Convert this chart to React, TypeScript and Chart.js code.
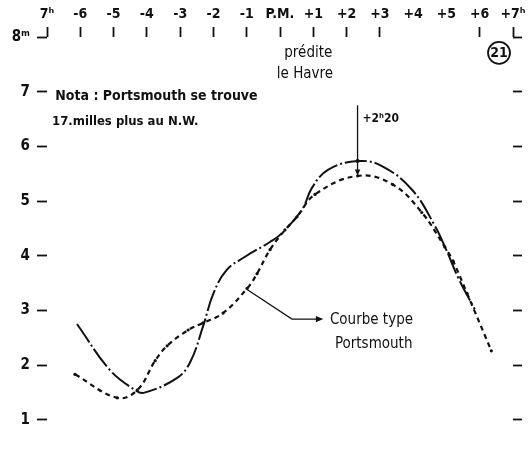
import { useEffect, useRef } from 'react';
import { Chart, registerables } from 'chart.js';

Chart.register(...registerables);

// Hours around high water (P.M.) along the top scale
const hourTicks = [-7, -6, -5, -4, -3, -2, -1, 0, 1, 2, 3, 4, 5, 6, 7];
const hourLabels = ['7ʰ', '-6', '-5', '-4', '-3', '-2', '-1', 'P.M.', '+1', '+2', '+3', '+4', '+5', '+6', '+7ʰ'];
const hoursWithoutTick = [4, 5];

// Water height in metres
const levelTicks = [1, 2, 3, 4, 5, 6, 7, 8];
const levelLabels = ['1', '2', '3', '4', '5', '6', '7', '8ᵐ'];

// Predicted curve at Le Havre (dash-dot line)
const havreHours = [-6.1, -5.1, -4.35, -4.1, -3.1, -2.7, -2.31, -2.0, -1.6, -1.05, -0.3, 0, 0.66, 0.96, 1.44, 2.33, 3.06, 3.96, 4.65, 5.0, 5.35, 5.85];
const havreLevels = [2.75, 1.9, 1.54, 1.49, 1.76, 2.05, 2.71, 3.31, 3.74, 3.98, 4.25, 4.38, 4.84, 5.24, 5.57, 5.73, 5.64, 5.21, 4.55, 4.1, 3.6, 3.02];

// Standard Portsmouth curve (dashed line)
const portsHours = [-6.16, -4.89, -4.29, -3.75, -3.39, -2.76, -2.31, -1.71, -0.99, -0.69, -0.3, 0.15, 0.51, 1.05, 2.34, 3.39, 4.26, 4.95, 5.2, 5.62, 6.35];
const portsLevels = [1.83, 1.4, 1.54, 2.08, 2.35, 2.64, 2.77, 2.95, 3.4, 3.67, 4.11, 4.47, 4.71, 5.12, 5.46, 5.3, 4.79, 4.16, 3.9, 3.31, 2.26];

// Time lag between the two high waters
const peakHour = 2.33;
const peakLabel = '+2ʰ20';
const peakTopLevel = 6.75;
const havrePeakLevel = 5.73;
const portsPeakLevel = 5.46;

const noteLines = ['Nota : Portsmouth se trouve', '17.milles plus au N.W.'];
const predictLines = ['prédite', 'le Havre'];
const curveLabelLines = ['Courbe type', 'Portsmouth'];
const figureNumber = '21';

const FONT = '"DejaVu Sans Condensed", "Liberation Sans Narrow", "DejaVu Sans", sans-serif';
const INK = '#111';

const toPoints = (xs: number[], ys: number[]) => xs.map((h, i) => ({ x: h, y: ys[i] }));

const arrowHead = (ctx: CanvasRenderingContext2D, x: number, y: number, angle: number, size: number) => {
  ctx.beginPath();
  ctx.moveTo(x, y);
  ctx.lineTo(x - size * Math.cos(angle - 0.4), y - size * Math.sin(angle - 0.4));
  ctx.lineTo(x - size * Math.cos(angle + 0.4), y - size * Math.sin(angle + 0.4));
  ctx.closePath();
  ctx.fill();
};

const annotations = {
  id: 'tideAnnotations',
  afterDraw(chart: any) {
    const { ctx } = chart;
    const x = chart.scales.x;
    const y = chart.scales.y;
    const px = (h: number) => x.getPixelForValue(h);
    const py = (v: number) => y.getPixelForValue(v);
    ctx.save();
    ctx.fillStyle = INK;
    ctx.strokeStyle = INK;
    ctx.textBaseline = 'middle';

    // "prédite le Havre" under the P.M. mark
    ctx.font = `15px ${FONT}`;
    ctx.textAlign = 'center';
    ctx.fillText(predictLines[0], px(0.85), py(7.7));
    ctx.fillText(predictLines[1], px(0.75), py(7.33));

    // Figure number in a circle
    ctx.lineWidth = 1.8;
    ctx.beginPath();
    ctx.arc(px(6.58), py(7.71), 11, 0, Math.PI * 2);
    ctx.stroke();
    ctx.font = `bold 14px ${FONT}`;
    ctx.fillText(figureNumber, px(6.58), py(7.71) + 1);

    // Note on Portsmouth
    ctx.textAlign = 'left';
    ctx.font = `bold 14px ${FONT}`;
    ctx.fillText(noteLines[0], px(-6.75), py(6.92));
    ctx.font = `bold 13px ${FONT}`;
    ctx.fillText(noteLines[1], px(-6.85), py(6.46));

    // High-water lag marker
    ctx.lineWidth = 1.3;
    ctx.beginPath();
    ctx.moveTo(px(peakHour), py(peakTopLevel));
    ctx.lineTo(px(peakHour), py(portsPeakLevel) - 3);
    ctx.stroke();
    arrowHead(ctx, px(peakHour), py(portsPeakLevel), Math.PI / 2, 7);
    ctx.beginPath();
    ctx.arc(px(peakHour), py(havrePeakLevel), 2, 0, Math.PI * 2);
    ctx.fill();
    ctx.font = `bold 12px ${FONT}`;
    ctx.fillText(peakLabel, px(peakHour) + 5, py(6.5));

    // Pointer to the Portsmouth curve
    const startH = -0.99;
    const startV = 3.38;
    ctx.lineWidth = 1.3;
    ctx.beginPath();
    ctx.moveTo(px(startH), py(startV));
    ctx.lineTo(px(0.36), py(2.84));
    ctx.lineTo(px(1.22), py(2.84));
    ctx.stroke();
    arrowHead(ctx, px(1.3), py(2.84), 0, 8);
    ctx.font = `15px ${FONT}`;
    ctx.fillText(curveLabelLines[0], px(1.5), py(2.82));
    ctx.fillText(curveLabelLines[1], px(1.65), py(2.38));

    ctx.restore();
  },
};

export default function App() {
  const canvasRef = useRef<HTMLCanvasElement | null>(null);

  useEffect(() => {
    const canvas = canvasRef.current;
    if (!canvas) return;
    const tickValues = (values: number[]) => (scale: any) => {
      scale.ticks = values.map((v) => ({ value: v }));
    };
    const chart = new Chart(canvas, {
      type: 'scatter',
      data: {
        datasets: [
          {
            label: 'Le Havre',
            data: toPoints(havreHours, havreLevels),
            showLine: true,
            borderColor: INK,
            backgroundColor: INK,
            borderWidth: 2,
            borderDash: [22, 3, 2, 3],
            pointRadius: 0,
            tension: 0.4,
          },
          {
            label: 'Portsmouth',
            data: toPoints(portsHours, portsLevels),
            showLine: true,
            borderColor: INK,
            backgroundColor: INK,
            borderWidth: 2.2,
            borderDash: [5, 4],
            pointRadius: 1.6,
            pointBorderWidth: 0,
            tension: 0.4,
          },
        ],
      },
      options: {
        animation: false,
        responsive: false,
        events: [],
        layout: { padding: { bottom: 10 } },
        plugins: {
          legend: { display: false },
          tooltip: { enabled: false },
        },
        scales: {
          x: {
            type: 'linear',
            position: 'top',
            min: -7,
            max: 7,
            afterBuildTicks: tickValues(hourTicks),
            afterFit: (scale: any) => {
              scale.height = 37;
            },
            border: { display: false },
            grid: {
              drawOnChartArea: false,
              tickLength: 10,
              tickWidth: 1.8,
              color: (c: any) => (hoursWithoutTick.includes(c.tick?.value) ? 'rgba(0,0,0,0)' : INK),
            },
            ticks: {
              autoSkip: false,
              maxRotation: 0,
              padding: 4,
              color: INK,
              font: { family: FONT, size: 14, weight: 'bold' },
              callback: (v: any) => hourLabels[hourTicks.indexOf(Number(v))] ?? '',
            },
          },
          y: {
            type: 'linear',
            position: 'left',
            min: 0.5,
            max: 8,
            afterBuildTicks: tickValues(levelTicks),
            afterFit: (scale: any) => {
              scale.width = 47;
            },
            border: { display: false },
            grid: { drawOnChartArea: false, tickLength: 10, tickWidth: 1.8, color: INK },
            ticks: {
              padding: 7,
              color: INK,
              font: { family: FONT, size: 15, weight: 'bold' },
              callback: (v: any) => levelLabels[levelTicks.indexOf(Number(v))] ?? '',
            },
          },
          y2: {
            type: 'linear',
            position: 'right',
            min: 0.5,
            max: 8,
            afterBuildTicks: tickValues(levelTicks),
            afterFit: (scale: any) => {
              scale.width = 17;
            },
            border: { display: false },
            grid: { drawOnChartArea: false, tickLength: 9, tickWidth: 1.8, color: INK },
            ticks: { display: false },
          },
        },
      },
      plugins: [annotations],
    } as any);
    return () => chart.destroy();
  }, []);

  return (
    <div style={{ position: 'fixed', left: 0, top: 0, width: 530, height: 463, background: '#fff' }}>
      <canvas ref={canvasRef} width={530} height={463} style={{ display: 'block' }} />
    </div>
  );
}
